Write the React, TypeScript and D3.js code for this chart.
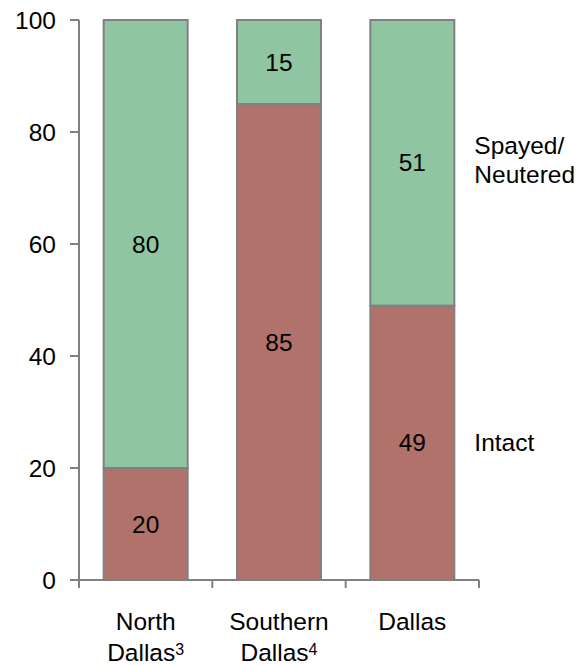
import React from "react";
import * as d3 from "d3";

const categories = ["North Dallas", "Southern Dallas", "Dallas"];
const catLines: [string, string, string][] = [
  ["North", "Dallas", "3"],
  ["Southern", "Dallas", "4"],
  ["Dallas", "", ""],
];
const intact = [20, 85, 49];
const spayed = [80, 15, 51];
const yTicks = [0, 20, 40, 60, 80, 100];

const W = 583;
const H = 665;
const x0 = 79, x1 = 479, yTop = 20, yBot = 580;
const font = "Liberation Sans, Arial, sans-serif";
const green = "#8FC6A1";
const red = "#B0726B";
const gray = "#808080";
const FS = 24.5;

export default function App() {
  const x = d3.scaleBand<string>().domain(categories).range([x0, x1]).paddingInner(0.37).paddingOuter(0.185);
  const y = d3.scaleLinear().domain([0, 100]).range([yBot, yTop]);
  const bw = x.bandwidth();
  const step = x.step();
  const lastX = (x("Dallas") as number) + bw;
  return (
    <svg width={W} height={H} style={{ position: "absolute", left: 0, top: 0, background: "#fff" }} fontFamily={font}>
      {categories.map((c, i) => {
        const bx = x(c) as number;
        return (
          <g key={c}>
            <rect x={bx} y={y(intact[i])} width={bw} height={y(0) - y(intact[i])} fill={red} stroke={gray} strokeWidth={2} />
            <rect x={bx} y={y(intact[i] + spayed[i])} width={bw} height={y(intact[i]) - y(intact[i] + spayed[i])} fill={green} stroke={gray} strokeWidth={2} />
            <text x={bx + bw / 2} y={y(intact[i] / 2)} dy="0.35em" textAnchor="middle" fontSize={FS} fill="#000">{intact[i]}</text>
            <text x={bx + bw / 2} y={y(intact[i] + spayed[i] / 2)} dy="0.35em" textAnchor="middle" fontSize={FS} fill="#000">{spayed[i]}</text>
          </g>
        );
      })}
      {/* y axis */}
      <line x1={x0} x2={x0} y1={yTop} y2={yBot} stroke={gray} strokeWidth={2} />
      {yTicks.map((t) => (
        <g key={t}>
          <line x1={x0 - 9} x2={x0} y1={y(t)} y2={y(t)} stroke={gray} strokeWidth={2} />
          <text x={x0 - 23} y={y(t)} dy="0.35em" textAnchor="end" fontSize={FS} fill="#000">{t}</text>
        </g>
      ))}
      {/* x axis */}
      <line x1={x0} x2={x1} y1={yBot} y2={yBot} stroke={gray} strokeWidth={2} />
      {[0, 1, 2, 3].map((k) => (
        <line key={k} x1={x0 + k * step} x2={x0 + k * step} y1={yBot} y2={yBot + 8} stroke={gray} strokeWidth={2} />
      ))}
      {categories.map((c, i) => {
        const cx = (x(c) as number) + bw / 2;
        const [l1, l2, sup] = catLines[i];
        return (
          <g key={c}>
            <text x={cx} y={630} textAnchor="middle" fontSize={FS} fill="#000">{l1}</text>
            {l2 && (
              <text x={cx} y={661} textAnchor="middle" fontSize={FS} fill="#000">
                {l2}
                <tspan fontSize={16} dy={-6}>{sup}</tspan>
              </text>
            )}
          </g>
        );
      })}
      {/* legend labels */}
      <text x={lastX + 20} y={154} fontSize={FS} fill="#000">Spayed/</text>
      <text x={lastX + 20} y={183} fontSize={FS} fill="#000">Neutered</text>
      <text x={lastX + 20} y={y(49 / 2)} dy="0.35em" fontSize={FS} fill="#000">Intact</text>
    </svg>
  );
}
